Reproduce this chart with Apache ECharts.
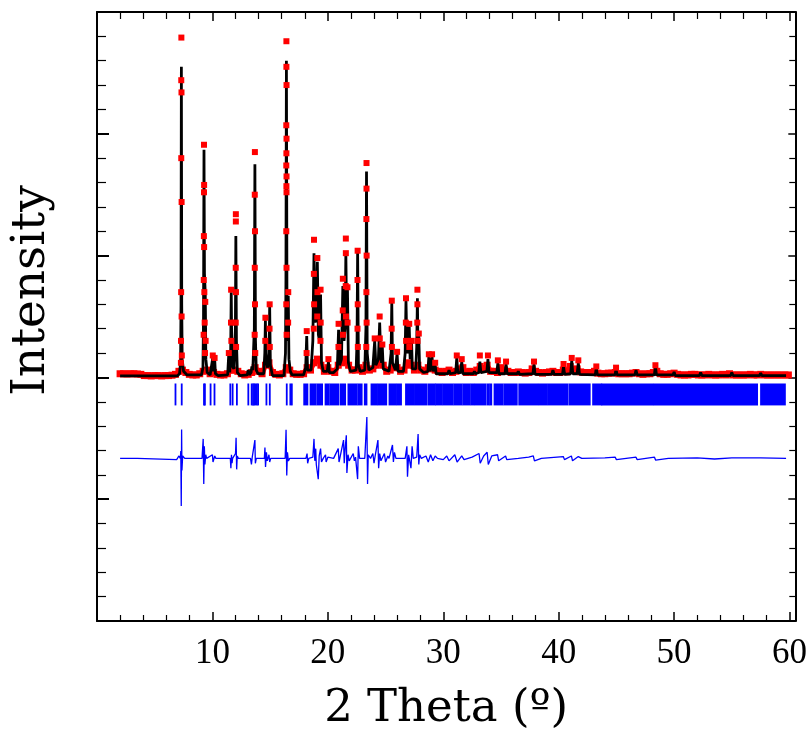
<!DOCTYPE html>
<html>
<head>
<meta charset="utf-8">
<script src="https://cdn.jsdelivr.net/npm/echarts@6/dist/echarts.min.js"></script>
<style>html,body{margin:0;padding:0;background:#fff}#c{width:810px;height:738px}</style>
</head>
<body>
<div id="c"></div>
<script>
// ---------------- DATA ----------------
const xTickLabels = [10, 20, 30, 40, 50, 60];

// calculated profile (2θ, intensity in axis units)
const calcPts = [
[2.0,0.012],[6.95,0.012],[7.15,0.03],[7.24,0.12],[7.28,0.6],[7.31,2.55],[7.34,0.6],[7.38,0.15],[7.5,0.05],[7.8,0.02],
[9.05,0.02],[9.18,0.08],[9.23,0.5],[9.27,1.87],[9.31,0.85],[9.38,0.69],[9.43,0.15],[9.55,0.04],[9.8,0.02],
[9.97,0.03],[10.03,0.16],[10.1,0.05],[10.19,0.16],[10.26,0.03],[10.5,0.015],
[11.32,0.02],[11.42,0.2],[11.5,0.04],[11.58,0.2],[11.63,0.70],[11.69,0.1],[11.86,0.07],[11.99,0.4],[12.03,1.16],[12.08,0.3],[12.16,0.04],[12.4,0.015],
[13.02,0.02],[13.1,0.06],[13.2,0.02],[13.35,0.04],[13.42,0.09],[13.5,0.06],[13.63,0.4],[13.68,1.75],[13.73,0.3],[13.8,0.06],[13.95,0.03],
[14.45,0.03],[14.54,0.2],[14.59,0.47],[14.65,0.15],[14.78,0.08],[14.91,0.2],[14.96,0.58],[15.02,0.1],[15.2,0.015],
[16.2,0.015],[16.33,0.2],[16.37,0.8],[16.41,2.6],[16.46,0.5],[16.52,0.3],[16.57,0.67],[16.63,0.15],[16.75,0.05],[16.9,0.02],
[17.9,0.02],[18.08,0.08],[18.17,0.34],[18.24,0.06],[18.55,0.06],[18.7,0.3],[18.8,1.02],[18.9,0.45],[19.0,0.5],[19.09,0.95],[19.18,0.35],[19.28,0.3],[19.37,0.68],[19.45,0.12],[19.6,0.05],
[19.95,0.05],[20.05,0.13],[20.13,0.04],[20.5,0.04],[20.82,0.07],[20.93,0.39],[21.02,0.1],[21.18,0.15],[21.3,0.75],[21.4,0.3],[21.5,0.4],[21.56,1.02],[21.63,0.45],[21.7,0.72],[21.78,0.12],[21.95,0.05],
[22.45,0.06],[22.53,0.3],[22.58,1.03],[22.65,0.1],[22.8,0.05],[23.2,0.06],[23.3,0.4],[23.35,1.69],[23.41,0.2],[23.55,0.06],
[23.9,0.08],[24.06,0.30],[24.16,0.1],[24.38,0.15],[24.49,0.45],[24.58,0.18],[24.66,0.12],[24.72,0.25],[24.8,0.07],[25.3,0.05],[25.48,0.2],[25.54,0.61],[25.6,0.12],[25.85,0.06],[26.0,0.2],[26.08,0.05],
[26.55,0.05],[26.7,0.2],[26.77,0.63],[26.86,0.2],[26.96,0.22],[27.05,0.42],[27.13,0.15],[27.2,0.2],[27.25,0.3],[27.32,0.07],[27.62,0.07],[27.7,0.25],[27.76,0.65],[27.81,0.2],[27.85,0.24],[27.88,0.34],[27.95,0.07],
[28.3,0.04],[28.67,0.05],[28.75,0.17],[28.82,0.05],[28.95,0.05],[29.03,0.17],[29.1,0.05],[29.22,0.04],[29.3,0.1],[29.38,0.03],[30.4,0.03],[30.5,0.06],[30.6,0.03],
[31.08,0.04],[31.17,0.16],[31.26,0.04],[31.5,0.04],[31.6,0.13],[31.7,0.03],[32.6,0.03],[32.7,0.05],[32.8,0.03],[33.08,0.04],[33.17,0.13],[33.26,0.04],[33.78,0.05],[33.87,0.15],[33.96,0.04],
[34.64,0.04],[34.73,0.12],[34.82,0.03],[35.35,0.03],[35.44,0.11],[35.53,0.03],[36.4,0.03],[36.5,0.05],[36.6,0.025],[37.77,0.03],[37.86,0.11],[37.95,0.025],[39.4,0.025],[39.5,0.06],[39.6,0.025],
[40.33,0.025],[40.42,0.09],[40.51,0.025],[41.04,0.03],[41.13,0.14],[41.22,0.03],[41.6,0.03],[41.7,0.12],[41.8,0.025],[43.17,0.02],[43.26,0.08],[43.35,0.02],[44.88,0.02],[44.97,0.07],[45.06,0.02],
[46.6,0.02],[46.7,0.06],[46.8,0.02],[48.29,0.02],[48.38,0.09],[48.47,0.02],[49.9,0.02],[50.0,0.045],[50.1,0.015],[52.2,0.015],[52.3,0.04],[52.4,0.015],[54.9,0.015],[55.0,0.04],[55.1,0.015],
[57.4,0.015],[57.5,0.035],[57.6,0.015],[59.7,0.015]
];

// observed background points: start 2.0°, step 0.3°
const obsBgStart = 2.0, obsBgStep = 0.3;
const obsBgY = [
0.03,0.03,0.028,0.03,0.03,0.028,0.025,
0.015,0.015,0.012,0.015,0.015,0.012,0.015,0.015,0.018,0.025,
0.05,0.06,0.04,
0.025,0.02,0.02,0.03,
0.05,0.06,0.03,0.04,
0.025,0.02,0.02,0.03,
0.06,0.06,0.05,0.03,
0.02,0.025,0.04,0.08,
0.05,0.03,0.1,0.12,
0.04,0.025,0.02,0.03,0.08,
0.06,0.03,0.025,0.025,
0.03,0.08,0.06,0.12,0.15,
0.1,0.05,0.08,0.05,
0.04,0.1,0.12,0.15,0.1,
0.06,0.06,0.08,0.05,
0.1,0.06,0.07,0.1,
0.12,0.1,0.05,0.06,0.08,
0.08,0.05,0.06,0.12,0.1,
0.06,0.1,0.06,0.05,
0.08,0.07,0.06,0.05,0.04,
0.05,0.06,0.04,0.05,0.07,0.08,
0.04,0.05,0.04,0.06,0.09,0.07,
0.1,0.05,0.05,0.04,0.08,0.06,
0.05,0.04,0.04,0.045,0.04,0.035,
0.04,0.07,0.05,0.04,0.035,0.04,
0.045,0.05,0.04,0.04,0.06,0.045,
0.09,0.06,0.07,0.045,0.04,0.04,
0.04,0.05,0.035,0.03,0.03,0.035,
0.035,0.04,0.03,0.03,0.03,0.03,
0.035,0.04,0.03,0.025,0.03,0.03,
0.04,0.05,0.03,0.025,0.025,0.03,
0.035,0.025,0.02,0.02,0.02,0.025,
0.025,0.02,0.02,0.02,0.025,0.02,
0.02,0.02,0.025,0.02,0.03,0.02,
0.02,0.02,0.02,0.02,0.025,0.02,
0.02,0.025,0.02,0.02,0.02,0.02,
0.02,0.02,0.02,0.02
];

// observed points on the peaks
const obsPeakPts = [
[7.31,2.79],[7.30,2.44],[7.32,2.34],[7.30,1.80],[7.33,1.44],[7.29,0.70],[7.33,0.50],[7.28,0.30],[7.35,0.18],[7.27,0.12],
[9.27,1.91],[9.28,1.58],[9.27,1.52],[9.26,1.16],[9.28,1.07],[9.25,0.80],[9.30,0.70],[9.33,0.45],[9.24,0.35],[9.36,0.2],[9.38,0.62],[9.41,0.3],
[10.03,0.18],[10.19,0.16],[11.42,0.2],
[11.62,0.72],[11.61,0.45],[11.64,0.3],
[12.03,1.34],[12.03,1.28],[12.02,0.9],[12.04,0.7],[12.02,0.45],[12.05,0.25],
[13.68,1.85],[13.67,1.5],[13.69,1.2],[13.67,0.9],[13.69,0.6],[13.66,0.35],[13.71,0.2],
[14.59,0.49],[14.58,0.3],[14.96,0.60],[14.95,0.4],[14.97,0.25],
[16.41,2.76],[16.41,2.55],[16.42,2.40],[16.40,2.07],[16.42,1.96],[16.41,1.84],[16.40,1.74],[16.42,1.65],[16.41,1.57],[16.42,1.52],[16.40,1.2],[16.42,0.9],[16.40,0.6],[16.43,0.35],[16.57,0.7],[16.56,0.45],
[18.17,0.38],[18.16,0.2],
[18.8,1.13],[18.79,0.85],[18.81,0.6],[18.78,0.4],
[19.09,0.98],[19.1,0.7],[19.08,0.5],
[19.37,0.72],[19.38,0.45],[19.36,0.3],
[20.05,0.15],[20.93,0.44],[20.92,0.25],
[21.3,0.81],[21.29,0.55],[21.31,0.35],
[21.56,1.14],[21.56,1.02],[21.55,0.75],[21.57,0.5],
[21.7,0.74],[21.71,0.45],
[22.58,1.04],[22.57,0.8],[22.59,0.6],[22.57,0.4],[22.6,0.25],
[23.35,1.76],[23.35,1.55],[23.34,1.3],[23.36,1.0],[23.34,0.7],[23.36,0.45],[23.33,0.25],
[24.06,0.32],[24.49,0.50],[24.5,0.32],[24.72,0.27],
[25.54,0.63],[25.53,0.4],[25.55,0.25],[26.0,0.21],
[26.77,0.65],[26.76,0.45],[26.78,0.3],[27.05,0.44],[27.06,0.25],[27.25,0.3],
[27.76,0.72],[27.76,0.6],[27.75,0.45],[27.77,0.3],[27.88,0.36],
[28.75,0.19],[29.03,0.19],[29.3,0.12],[31.17,0.18],[31.6,0.15],[33.17,0.18],[33.87,0.18],[34.73,0.14],[35.44,0.13],
[37.86,0.13],[40.42,0.11],[41.13,0.16],[41.7,0.14],[43.26,0.09],[44.97,0.08],[48.38,0.1]
];

// difference curve (obs - calc), values relative to its own zero line
const diffPts = [
[2.0,0.0],[3.5,0.0],[3.6,-0.01],[6.9,-0.01],[7.1,0.02],[7.22,0.0],[7.26,0.06],[7.3,-0.39],[7.33,0.237],[7.36,-0.1],[7.42,0.02],[7.6,0.0],
[9.1,0.0],[9.2,0.16],[9.25,-0.21],[9.3,0.1],[9.35,-0.05],[9.42,0.03],[9.5,0.0],[10.0,0.03],[10.05,-0.03],[10.2,0.02],[10.3,0.0],
[11.55,0.0],[11.6,-0.08],[11.65,0.03],[11.7,-0.04],[11.75,0.0],[12.0,0.04],[12.05,0.17],[12.1,-0.09],[12.15,0.02],[12.25,0.0],
[13.3,0.0],[13.38,-0.05],[13.45,0.01],[13.68,0.15],[13.72,-0.04],[13.8,0.0],[14.5,0.0],[14.55,0.09],[14.6,-0.07],[14.68,0.05],[14.75,-0.02],[14.9,0.03],[14.96,-0.03],[15.05,0.0],
[16.3,0.0],[16.38,0.235],[16.44,-0.14],[16.5,0.05],[16.58,-0.02],[16.7,0.0],
[18.1,0.0],[18.2,0.04],[18.25,-0.04],[18.35,0.0],[18.7,0.01],[18.8,0.16],[18.87,-0.02],[18.95,0.08],[19.0,-0.05],[19.17,-0.17],[19.25,0.02],[19.37,0.08],[19.45,-0.03],[19.6,0.0],
[19.8,0.03],[19.85,-0.03],[20.0,0.01],[20.5,0.0],[20.9,0.08],[20.97,-0.03],[21.08,0.02],[21.36,0.15],[21.42,-0.04],[21.5,0.08],[21.6,0.19],[21.65,-0.12],[21.75,0.03],[21.85,-0.02],
[22.2,0.04],[22.3,-0.02],[22.4,0.01],[22.58,-0.17],[22.64,0.1],[22.75,0.0],[23.2,0.0],[23.38,0.34],[23.44,-0.21],[23.5,0.03],[23.7,0.0],
[23.9,0.04],[24.0,-0.04],[24.1,0.02],[24.34,0.15],[24.4,-0.08],[24.49,0.04],[24.6,-0.02],[24.9,0.04],[25.0,-0.03],[25.2,0.02],[25.3,0.0],
[25.6,0.11],[25.68,-0.03],[25.77,0.05],[25.9,0.0],[26.7,0.0],[26.85,0.1],[26.9,-0.15],[27.0,0.03],[27.2,-0.08],[27.3,0.1],[27.4,0.0],
[27.7,0.01],[27.82,0.2],[27.88,-0.05],[27.95,0.03],[28.1,0.0],[28.5,0.02],[28.7,-0.03],[28.9,0.03],[29.1,-0.02],[29.3,0.02],[29.5,0.0],
[30.0,-0.01],[30.3,0.02],[30.5,-0.02],[31.0,0.03],[31.2,-0.03],[31.6,0.02],[31.8,-0.01],[32.5,0.01],[33.1,0.04],[33.2,-0.04],[33.5,0.02],
[33.8,0.05],[33.9,-0.05],[34.2,0.02],[34.7,0.03],[34.8,-0.02],[35.4,0.02],[35.5,-0.01],[36.5,0.0],[37.4,0.01],[37.8,0.02],[37.9,-0.02],[38.5,0.0],
[40.4,0.015],[40.5,-0.01],[41.1,0.02],[41.2,-0.02],[41.7,0.015],[42.0,0.0],[44.0,0.005],[44.9,0.01],[45.0,-0.01],[46.7,0.01],[46.8,-0.01],
[48.3,0.01],[48.4,-0.015],[49.5,0.0],[52.0,0.005],[53.5,-0.005],[55.0,0.005],[57.5,0.005],[59.7,0.0]
];

// Bragg reflection positions: isolated ticks and dense runs [from, to]
const braggTicks = [6.80,7.34,9.27,9.35,9.84,10.18,11.55,11.75,12.12,13.11,13.40,13.52,13.62,13.72,13.85,13.96,14.68,14.97,16.44,16.75,16.88];
const braggRuns = [
[17.95,18.23],[18.5,18.94],[19.09,19.5],[19.8,20.08],[20.22,20.93],[21.13,21.5],[21.78,22.5],[22.64,22.93],[23.2,23.35],[23.78,24.2],
[24.34,25.06],[25.34,25.91],[26.05,26.34],[26.77,27.47],[27.62,28.52],[28.7,29.27],[29.38,29.89],[30.03,30.83],[30.97,31.6],[31.74,32.31],
[32.45,32.6],[32.74,33.65],[33.82,33.96],[34.1,34.16],[34.44,35.15],[35.3,36.37],[36.58,38.14],[38.28,38.99],[39.14,40.76],[40.93,42.69],
[42.98,43.69],[43.77,48.18],[48.32,57.19],[57.53,59.6]
];

// ---------------- LAYOUT / STYLE ----------------
const DIFF_OFFSET = -0.665;
const BRAGG_TOP = -0.05, BRAGG_BOT = -0.23;

const obsBgPts = obsBgY.map((y, i) => [+(obsBgStart + obsBgStep * i).toFixed(2), y]);
const diffShifted = diffPts.map(p => [p[0], p[1] + DIFF_OFFSET]);
const braggAll = braggTicks.map(x => [x, x]).concat(braggRuns);

const chart = echarts.init(document.getElementById('c'), null, {renderer: 'canvas'});

const axisLine = {show: true, onZero: false, lineStyle: {color: '#000', width: 2}};
const xCommon = {
  type: 'value', min: 0, max: 60.5, interval: 10,
  axisLine: axisLine, splitLine: {show: false},
  axisTick: {show: true, inside: true, length: 9, lineStyle: {color: '#000', width: 1.5}},
  minorTick: {show: true, splitNumber: 5, length: 6, lineStyle: {color: '#000', width: 1.2}},
  minorSplitLine: {show: false}
};
const yCommon = {
  type: 'value', min: -2, max: 3, interval: 1,
  axisLine: axisLine, splitLine: {show: false},
  axisTick: {show: true, inside: true, length: 12, lineStyle: {color: '#000', width: 2}},
  minorTick: {show: true, splitNumber: 5, length: 9, lineStyle: {color: '#000', width: 1.2}},
  axisLabel: {show: false}
};

chart.setOption({
  animation: false,
  backgroundColor: '#fff',
  grid: {left: 93, top: 12, width: 709, height: 609, containLabel: false},
  xAxis: [
    Object.assign({}, xCommon, {
      position: 'bottom',
      axisLabel: {
        show: true, margin: 15, color: '#000', fontFamily: 'Liberation Serif', fontSize: 35,
        formatter: v => (xTickLabels.indexOf(v) >= 0 ? String(v) : '')
      },
      name: '2 Theta (º)', nameLocation: 'middle', nameGap: 66,
      nameTextStyle: {color: '#000', fontFamily: 'DejaVu Serif', fontSize: 45}
    }),
    Object.assign({}, xCommon, {position: 'top', axisLabel: {show: false},
      axisTick: {show: true, inside: true, length: 9, lineStyle: {color: '#000', width: 1.5}},
      minorTick: {show: true, splitNumber: 5, length: 7, lineStyle: {color: '#000', width: 1.2}}})
  ],
  yAxis: [
    Object.assign({}, yCommon, {
      position: 'left',
      name: 'Intensity', nameLocation: 'middle', nameGap: 42, nameRotate: 90,
      nameTextStyle: {color: '#000', fontFamily: 'DejaVu Serif', fontSize: 47, padding: [0, 0, 0, 52]}
    }),
    Object.assign({}, yCommon, {position: 'right',
      axisTick: {show: true, inside: true, length: 7, lineStyle: {color: '#000', width: 1.5}},
      minorTick: {show: true, splitNumber: 5, length: 6, lineStyle: {color: '#000', width: 1.2}}})
  ],
  series: [
    {
      name: 'Obs (background)', type: 'line', data: obsBgPts,
      symbol: 'rect', symbolSize: 7, showSymbol: true,
      lineStyle: {color: '#ff0000', width: 5}, itemStyle: {color: '#ff0000', opacity: 1}, silent: true, z: 2
    },
    {
      name: 'Calc', type: 'line', data: calcPts, showSymbol: false, symbol: 'none',
      lineStyle: {color: '#000', width: 2.8}, z: 3, silent: true
    },
    {
      name: 'Obs (peaks)', type: 'scatter', data: obsPeakPts,
      symbol: 'rect', symbolSize: 6, itemStyle: {color: '#ff0000', opacity: 1}, silent: true, z: 4
    },
    {
      name: 'Bragg', type: 'custom', data: braggAll, z: 2, silent: true,
      renderItem: function (params, api) {
        const p0 = api.coord([api.value(0), BRAGG_TOP]);
        const p1 = api.coord([api.value(1), BRAGG_BOT]);
        const x0 = p0[0] - 0.9, x1 = p1[0] + 0.9;
        return {type: 'rect', shape: {x: x0, y: p0[1], width: Math.max(1.8, x1 - x0), height: p1[1] - p0[1]},
          style: {fill: '#0000ff'}};
      },
      encode: {x: [0, 1]}
    },
    {
      name: 'Diff', type: 'line', data: diffShifted, showSymbol: false, symbol: 'none',
      lineStyle: {color: '#0000ff', width: 1.3}, z: 3, silent: true
    }
  ]
});
</script>
</body>
</html>
